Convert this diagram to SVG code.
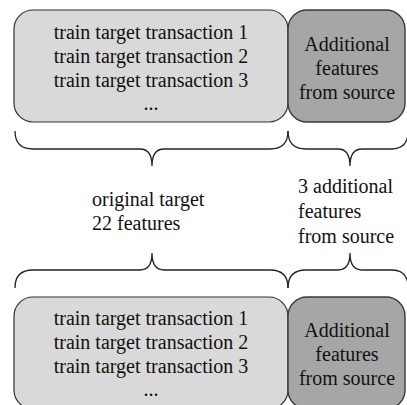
<svg xmlns="http://www.w3.org/2000/svg" width="407" height="405" viewBox="0 0 407 405">
<style>
text{font-family:"Times New Roman", Times, Tinos, "Liberation Serif", "Noto Serif", "DejaVu Serif", serif;font-size:20px;fill:#111}
.c{text-anchor:middle}
.b1{fill:#d9d9d9;stroke:#333;stroke-width:1.2}
.b2{fill:#a6a6a6;stroke:#3a3a3a;stroke-width:1.4}
.br{fill:none;stroke:#222;stroke-width:1.3}
</style>
<rect width="407" height="405" fill="#fff"/>
<g id="top-target">
<rect class="b1" x="14" y="10" width="274" height="112" rx="19"/>
<text class="c" x="151" y="39">train target transaction 1</text>
<text class="c" x="151" y="63">train target transaction 2</text>
<text class="c" x="151" y="87">train target transaction 3</text>
<text class="c" x="151" y="110">...</text>
</g>
<g id="top-source">
<rect class="b2" x="288" y="10" width="117" height="112" rx="19"/>
<text class="c" x="347" y="51">Additional</text>
<text class="c" x="347" y="75">features</text>
<text class="c" x="347" y="99">from source</text>
</g>
<g id="labels">
<text x="92" y="206">original target</text>
<text x="92" y="230">22 features</text>
<text x="298" y="193">3 additional</text>
<text x="298" y="218">features</text>
<text x="298" y="243">from source</text>
</g>
<g id="connectors">
<path class="br" d="M15,131 Q15,149 33,149 L140,149 C148,149 152,155 152,166 C152,155 156,149 164,149 L270,149 Q288,149 288,131"/>
<path class="br" d="M288,131 Q288,149 306,149 L338,149 C346,149 350,155 350,166 C350,155 354,149 362,149 L392,149 Q406,149 408,135"/>
<path class="br" d="M15,288 Q15,270 33,270 L140,270 C148,270 152,264 152,253 C152,264 156,270 164,270 L270,270 Q288,270 288,288"/>
<path class="br" d="M288,288 Q288,270 306,270 L338,270 C346,270 350,264 350,253 C350,264 354,270 362,270 L392,270 Q406,270 408,284"/>
</g>
<g id="bottom-target">
<rect class="b1" x="14" y="297" width="274" height="112" rx="19"/>
<text class="c" x="151" y="325">train target transaction 1</text>
<text class="c" x="151" y="349">train target transaction 2</text>
<text class="c" x="151" y="373">train target transaction 3</text>
<text class="c" x="151" y="396">...</text>
</g>
<g id="bottom-source">
<rect class="b2" x="288" y="297" width="117" height="112" rx="19"/>
<text class="c" x="347" y="337">Additional</text>
<text class="c" x="347" y="361">features</text>
<text class="c" x="347" y="385">from source</text>
</g>
</svg>
